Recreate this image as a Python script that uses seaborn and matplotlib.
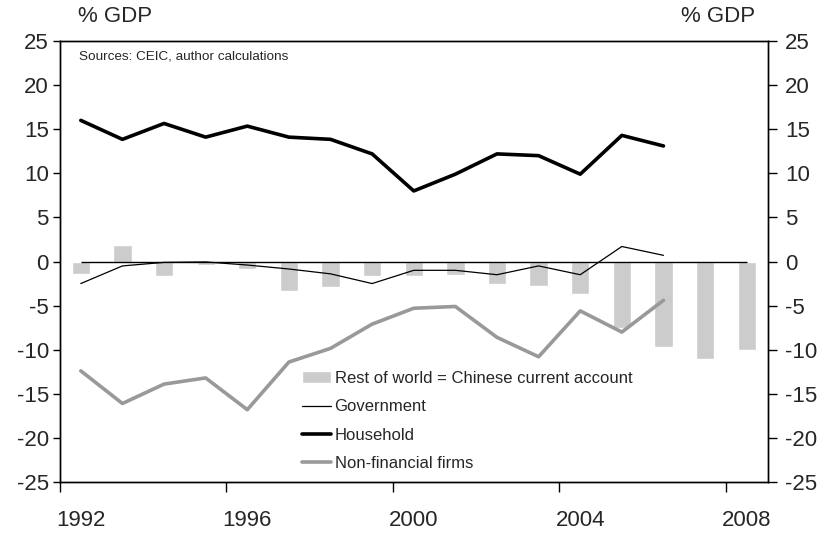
import numpy as np
import pandas as pd
import matplotlib
matplotlib.use("Agg")
import matplotlib.pyplot as plt
import seaborn as sns

# china sectoral balances, % GDP
years = list(range(1992, 2009))
rest_of_world = [-1.4, 1.9, -1.6, -0.4, -0.9, -3.3, -2.9, -1.6, -1.7, -1.5,
                 -2.6, -2.8, -3.7, -7.5, -9.7, -11.0, -10.0]
line_years = list(range(1992, 2007))
government = [-2.5, -0.5, -0.1, -0.05, -0.4, -0.85, -1.4, -2.5, -1.0, -1.0,
              -1.5, -0.5, -1.5, 1.7, 0.7]
household = [16.0, 13.85, 15.65, 14.1, 15.35, 14.1, 13.85, 12.2, 8.0, 9.9,
             12.2, 12.0, 9.9, 14.3, 13.1]
nonfin = [-12.4, -16.1, -13.9, -13.2, -16.8, -11.4, -9.85, -7.1, -5.3, -5.1,
          -8.6, -10.8, -5.6, -8.0, -4.4]

sns.set_style("white")
plt.rcParams["font.family"] = ["Liberation Sans", "DejaVu Sans"]

fig = plt.figure(figsize=(8.22, 5.35), dpi=100)
ax = fig.add_axes([60/822, 53/535, 707.5/822, 441/535])

bars = pd.DataFrame({"year": [str(y) for y in years], "val": rest_of_world})
sns.barplot(data=bars, x="year", y="val", color="#cccccc", saturation=1,
            width=0.44, ax=ax, label="Rest of world = Chinese current account")

pos = np.arange(len(line_years))
ax.hlines(0, 0, len(years) - 1, color="black", lw=1, zorder=2)
sns.lineplot(x=pos, y=government, color="black", lw=0.9, ax=ax, label="Government")
sns.lineplot(x=pos, y=household, color="black", lw=2.6, ax=ax, label="Household")
sns.lineplot(x=pos, y=nonfin, color="#999999", lw=2.6, ax=ax, label="Non-financial firms")

ax.set_xlim(-0.5, len(years) - 0.5)
ax.set_ylim(-25, 25)
ax.set_xlabel("")
ax.set_ylabel("")

# ticks on category edges, labels at category centres
ax.set_xticks(np.arange(-0.5, len(years), 4))
ax.set_xticklabels([])
ax.set_xticks(np.arange(0, len(years), 4), minor=True)
ax.set_xticklabels([str(y) for y in years[::4]], minor=True, fontsize=16)
ax.tick_params(axis="x", which="major", direction="out", length=7, width=1,
               bottom=True, color="black")
ax.tick_params(axis="x", which="minor", length=0, pad=20)

yt = np.arange(-25, 26, 5)
ax.set_yticks(yt)
ax.set_yticklabels([str(v) for v in yt], fontsize=16)
ax.tick_params(axis="y", direction="out", length=5, width=1, left=True,
               color="black", pad=3)

ax2 = ax.twinx()
ax2.set_ylim(-25, 25)
ax2.set_yticks(yt)
ax2.set_yticklabels([str(v) for v in yt], fontsize=16)
ax2.tick_params(axis="y", direction="out", length=6.5, width=1, right=True,
                color="black", pad=6)
ax2.grid(False)

for a in (ax, ax2):
    for s in a.spines.values():
        s.set_color("black")
        s.set_linewidth(1)
    a.grid(False)

handles, labels = ax.get_legend_handles_labels()
order = [labels.index(l) for l in ["Rest of world = Chinese current account",
                                   "Government", "Household", "Non-financial firms"]]
ax.legend([handles[i] for i in order], [labels[i] for i in order],
          loc="upper left", bbox_to_anchor=(302/822, 1 - 371/535),
          bbox_transform=fig.transFigure, frameon=False, fontsize=12,
          handlelength=1.75, handletextpad=0.2, labelspacing=0.8,
          borderpad=0, borderaxespad=0)

fig.text(78/822, 1 - 17/535, "% GDP", fontsize=16, va="center", ha="left")
fig.text(755/822, 1 - 17/535, "% GDP", fontsize=16, va="center", ha="right")
fig.text(79/822, 1 - 57/535, "Sources: CEIC, author calculations", fontsize=9.7,
         va="center", ha="left")

fig.savefig("out.png", dpi=100)
